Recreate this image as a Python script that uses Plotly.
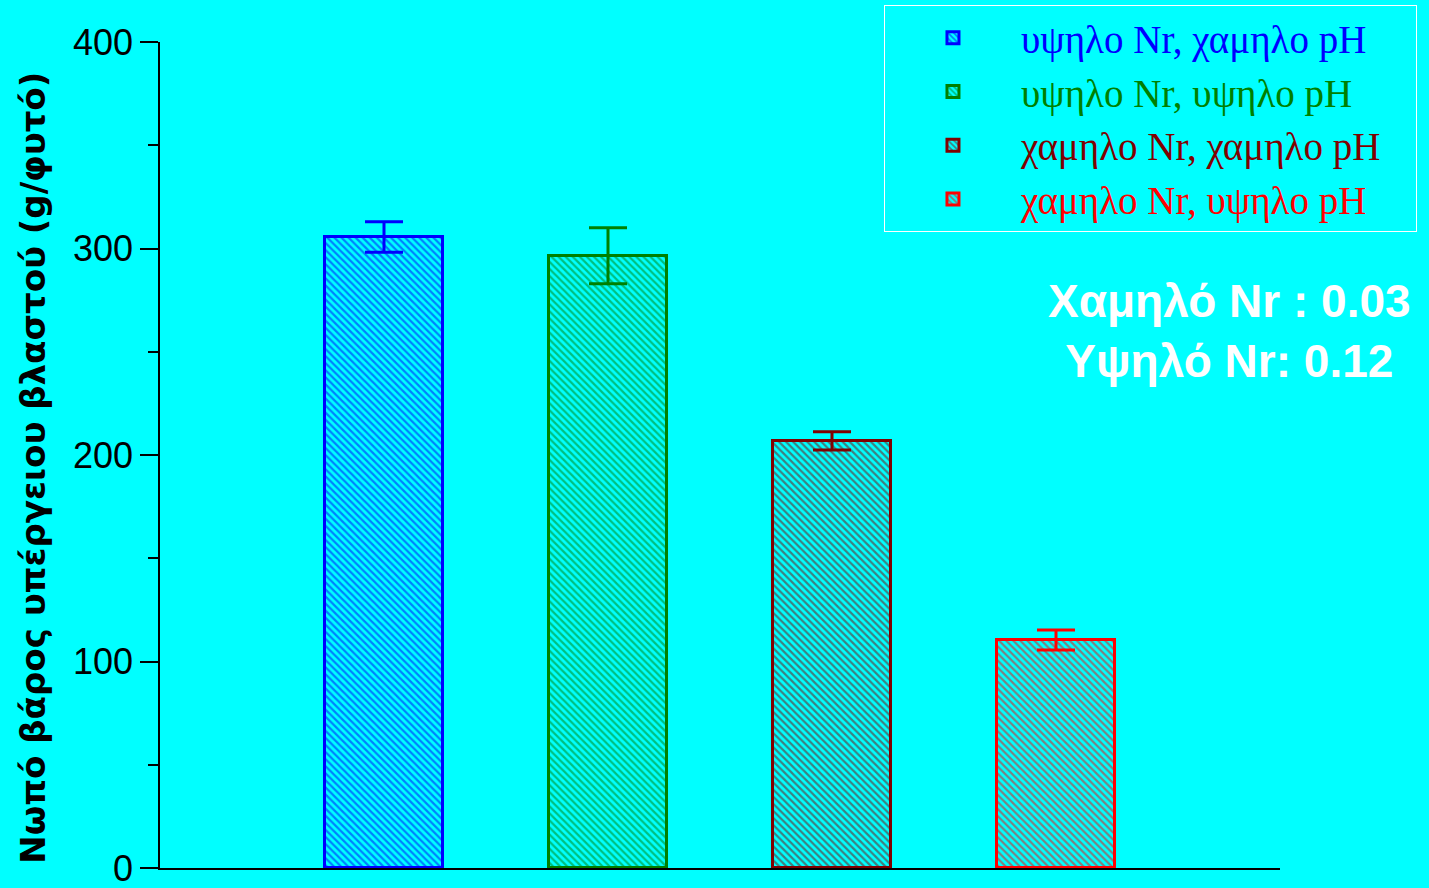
import plotly.graph_objects as go

categories = ["υψηλο Nr, χαμηλο pH", "υψηλο Nr, υψηλο pH", "χαμηλο Nr, χαμηλο pH", "χαμηλο Nr, υψηλο pH"]
values = [305.6, 296.5, 206.8, 110.4]
errors = [7.4, 13.6, 4.4, 4.8]
colors = ["#0000FF", "#008000", "#800000", "#FF0000"]
positions = [0, 1, 2, 3]
y_ticks = [0, 100, 200, 300, 400]

BG = "#00FFFF"

fig = go.Figure()
for i, name in enumerate(categories):
    fig.add_trace(go.Bar(
        x=[positions[i]], y=[values[i]],
        name=f"<span style='color:{colors[i]}'>{name}</span>&nbsp;&nbsp;&nbsp;",
        width=0.527,
        marker=dict(
            color=BG,
            line=dict(color=colors[i], width=3),
            pattern=dict(shape="\\", fgcolor=colors[i], bgcolor=BG, size=5, solidity=0.45),
        ),
        error_y=dict(type="data", array=[errors[i]], color=colors[i], thickness=3, width=19),
    ))

fig.update_layout(
    width=1429, height=888,
    paper_bgcolor=BG, plot_bgcolor=BG,
    margin=dict(l=160, r=149, t=42, b=20, autoexpand=False),
    showlegend=True,
    bargap=0,
    legend=dict(
        x=1.1223, xanchor="right", y=1.0448, yanchor="top",
        bgcolor=BG, bordercolor="white", borderwidth=1,
        font=dict(family="Liberation Serif, Times New Roman, serif", size=39),
        itemwidth=126,
    ),
    xaxis=dict(
        range=[-1, 4], showticklabels=False, ticks="", showgrid=False, zeroline=False,
        showline=True, linecolor="black", linewidth=1.5, automargin=False,
    ),
    yaxis=dict(
        range=[0, 400], tickvals=y_ticks, ticks="outside", ticklen=18, tickwidth=1.5,
        tickcolor="black", showgrid=False, zeroline=False,
        showline=True, linecolor="black", linewidth=1.5,
        tickfont=dict(family="Liberation Sans, Arial, sans-serif", size=36, color="black"),
        ticklabeloverflow="allow",
        minor=dict(dtick=50, ticks="outside", ticklen=10, tickwidth=1.5, tickcolor="black"),
        automargin=False,
    ),
    annotations=[
        dict(
            x=-0.113, y=0.485, xref="paper", yref="paper",
            text="<b>Νωπό βάρος υπέργειου βλαστού (g/φυτό)</b>",
            textangle=-90, showarrow=False, xanchor="center", yanchor="middle",
            font=dict(family="DejaVu Sans, sans-serif", size=34, color="black"),
        ),
        dict(
            x=0.955, y=0.65, xref="paper", yref="paper",
            text="<b>Χαμηλό Nr : 0.03<br>Υψηλό Nr: 0.12</b>",
            showarrow=False, align="center", xanchor="center", yanchor="middle",
            font=dict(family="Liberation Sans, Arial, sans-serif", size=46, color="white"),
        ),
    ],
)

fig.write_html("out.html")
